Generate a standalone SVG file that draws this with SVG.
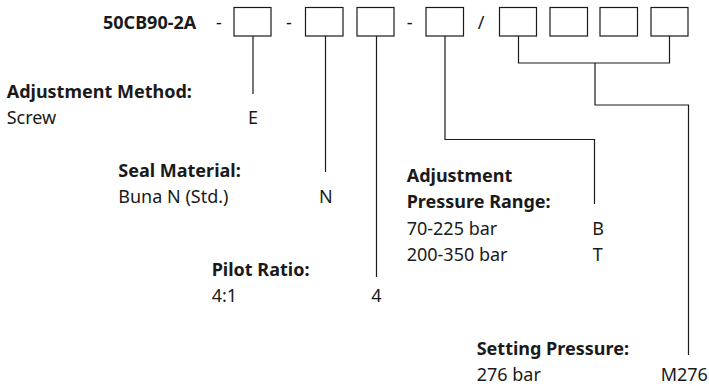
<svg xmlns="http://www.w3.org/2000/svg" width="709" height="386" viewBox="0 0 709 386">
<style>
text{font-family:"Noto Sans","Liberation Sans",sans-serif;font-size:18px;fill:#1a1a1a}
.b{font-weight:bold}
.m{text-anchor:middle}
.box{fill:#fff;stroke:#1a1a1a;stroke-width:1.2}
.ln{fill:none;stroke:#1a1a1a;stroke-width:1.2}
</style>
<rect width="709" height="386" fill="#fff"/>
<g id="code">
<text class="b" x="103" y="29.3">50CB90-2A</text>
<text class="m" x="219" y="29.3">-</text>
<text class="m" x="289" y="29.3">-</text>
<text class="m" x="409.7" y="29.3">-</text>
<text class="m" x="481" y="29.3">/</text>
</g>
<g id="boxes">
<rect class="box" x="234" y="7.5" width="37" height="28.5"/>
<rect class="box" x="305.5" y="7.5" width="37.5" height="28.5"/>
<rect class="box" x="357" y="7.5" width="37" height="28.5"/>
<rect class="box" x="426" y="7.5" width="37.5" height="28.5"/>
<rect class="box" x="499.5" y="7.5" width="37" height="28.5"/>
<rect class="box" x="550" y="7.5" width="37.5" height="28.5"/>
<rect class="box" x="600" y="7.5" width="37.5" height="28.5"/>
<rect class="box" x="651" y="7.5" width="37" height="28.5"/>
</g>
<g id="connectors">
<path class="ln" d="M253 36V94"/>
<path class="ln" d="M325.5 36V172"/>
<path class="ln" d="M376.5 36V277"/>
<path class="ln" d="M445 36V139.5H594.5V204"/>
<path class="ln" d="M518.5 36V63H669.5V36"/>
<path class="ln" d="M595 63V105H688.5V355"/>
</g>
<g id="adjustment-method">
<text class="b" x="6.7" y="97.7">Adjustment Method:</text>
<text x="6.7" y="124">Screw</text>
<text class="m" x="253" y="124">E</text>
</g>
<g id="seal-material">
<text class="b" x="118.3" y="176.5">Seal Material:</text>
<text x="118.3" y="203">Buna N (Std.)</text>
<text class="m" x="325.8" y="203">N</text>
</g>
<g id="pilot-ratio">
<text class="b" x="211.7" y="276">Pilot Ratio:</text>
<text x="211.7" y="302.3">4:1</text>
<text class="m" x="376.3" y="302.3">4</text>
</g>
<g id="pressure-range">
<text class="b" x="406.7" y="181.7">Adjustment</text>
<text class="b" x="406.7" y="208.3">Pressure Range:</text>
<text x="406.7" y="235">70-225 bar</text>
<text class="m" x="598" y="235">B</text>
<text x="406.7" y="261">200-350 bar</text>
<text class="m" x="597.7" y="261">T</text>
</g>
<g id="setting-pressure">
<text class="b" x="476.7" y="354.5">Setting Pressure:</text>
<text x="476.7" y="380.8">276 bar</text>
<text class="m" x="684.3" y="380.8">M276</text>
</g>
</svg>
